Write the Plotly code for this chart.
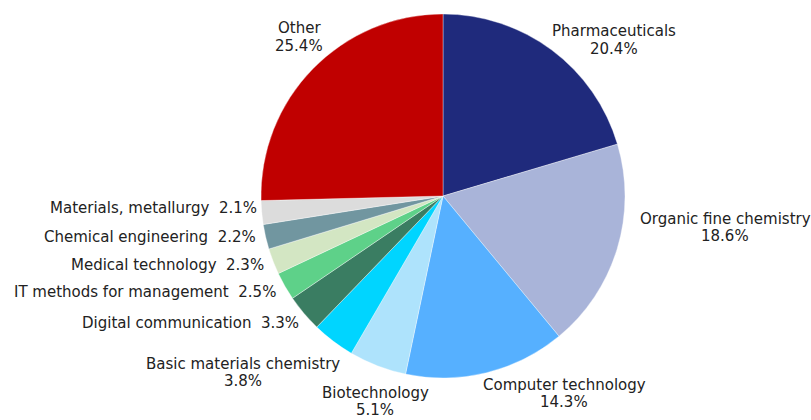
import plotly.graph_objects as go

# technology fields and their share (%)
fields = ['Pharmaceuticals', 'Organic fine chemistry', 'Computer technology', 'Biotechnology',
          'Basic materials chemistry', 'Digital communication', 'IT methods for management',
          'Medical technology', 'Chemical engineering', 'Materials, metallurgy', 'Other']
shares = [20.4, 18.6, 14.3, 5.1, 3.8, 3.3, 2.5, 2.3, 2.2, 2.1, 25.4]

slice_colours = ['#1F2A7C', '#A9B4D9', '#56B0FF', '#AEE3FC', '#00D5FF', '#3A7D62',
                 '#5ED189', '#D3E6C3', '#7196A0', '#DCDCDC', '#C00000']

# label placement in pixels: (x, y, anchor); 'center' = two lines, 'right' = one line
W, H = 811, 420
label_pos = [(614, 40, 'center'), (725, 227, 'center'), (564, 393, 'center'), (375, 401, 'center'),
             (243, 372, 'center'), (301, 323, 'right'), (278, 292, 'right'), (266, 265, 'right'),
             (258, 237, 'right'), (259, 208, 'right'), (299, 37, 'center')]
LINE_GAP = 17  # distance between the two lines of a stacked label

FONT = dict(family='DejaVu Sans, Verdana, sans-serif', size=15, color='#222222')

# pie centre and radius in pixels
CX, CY, R = 443, 196, 182

fig = go.Figure(go.Pie(
    labels=fields,
    values=shares,
    sort=False,
    direction='clockwise',
    rotation=0,
    marker=dict(colors=slice_colours, line=dict(color='rgba(255,255,255,0.6)', width=0.6)),
    textinfo='none',
    hoverinfo='label+percent',
    domain=dict(x=[(CX - R) / W, (CX + R) / W], y=[1 - (CY + R) / H, 1 - (CY - R) / H]),
))


def add_label(text, px, py, anchor):
    fig.add_annotation(
        x=px / W, y=1 - py / H, xref='paper', yref='paper',
        text=text, showarrow=False, xanchor=anchor, yanchor='middle',
        align='center', font=FONT,
    )


for name, share, (px, py, anchor) in zip(fields, shares, label_pos):
    if anchor == 'center':
        # stacked label: name above, share below
        add_label(name, px, py - LINE_GAP / 2, 'center')
        add_label(f'{share:.1f}%', px, py + LINE_GAP / 2, 'center')
    else:
        add_label(f'{name}  {share:.1f}%', px, py, 'right')

fig.update_layout(
    width=W, height=H,
    margin=dict(l=0, r=0, t=0, b=0),
    showlegend=False,
    paper_bgcolor='white',
    plot_bgcolor='white',
)

# drop the default page margin so the figure sits at the window's corner
fig.write_html('out.html', config={'displayModeBar': False},
               post_script="document.body.style.margin='0';")
